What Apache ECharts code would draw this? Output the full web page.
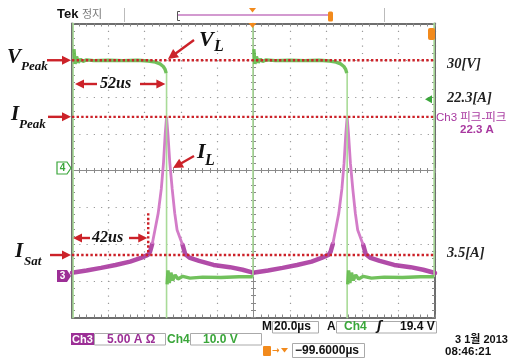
<!DOCTYPE html>
<html>
<head>
<meta charset="utf-8">
<script src="https://cdn.jsdelivr.net/npm/echarts@6/dist/echarts.min.js"></script>
<style>
html,body{margin:0;padding:0;background:#fff}
#c{width:520px;height:363px}
</style>
</head>
<body>
<div id="c"></div>
<script>
// ---- Scope settings -------------------------------------------------------
const timeRange = [0, 200];          // µs, 20 µs/div, 10 div
const voltRange = [-40, 40];         // Ch4, 10 V/div, 8 div
const currRange = [-5, 35];          // Ch3, 5 A/div, 8 div
const voltTickStep = 10;
const currTickStep = 5;
const timeTickStep = 20;

// ---- Reference levels ------------------------------------------------------
const V_PEAK = 30;      // V
const I_PEAK = 22.3;    // A
const I_SAT = 3.5;      // A
const T_ON = 52;        // µs, switch-on time
const T_SAT = 42;       // µs, time to saturation
const TRIG_LEVEL = 19.4;// V
const T_SAT_MARK_TOP = 9.2; // A, top of dotted 42 µs marker

// ---- Ch4: inductor voltage [µs, V] ----------------------------------------
// switching edges: [time, from, to]
const vEdges = [[0.6, -45, 45], [52.1, 26.5, -45], [99.7, -29, 45], [151.6, 26.5, -45], [199.5, -29, 45]];
const vHigh1 = [[1.1,33],[1.7,29],[2.5,31],[3.5,29.4],[4.7,30.3],[6,29.7],[8,30.1],[12,29.9],[20,30],[28,29.9],[36,30],[42,29.8],[46,29.5],[48.5,29],[50.3,28.3],[51.3,27.5],[51.9,26.5]];
const vLow1  = [[52.4,-31],[52.9,-27.2],[53.6,-30.6],[54.5,-27.8],[55.5,-29.9],[56.8,-28.4],[58.4,-29.5],[61,-28.8],[65,-29.3],[72,-29],[82,-29.1],[92,-28.9],[99.6,-28.9]];
const vHigh2 = [[100.2,33],[100.8,29],[101.6,31],[102.6,29.4],[103.8,30.3],[105,29.7],[107,30.1],[112,29.9],[120,30],[128,29.9],[136,30],[142,29.8],[145.5,29.5],[148,29],[149.8,28.3],[150.8,27.5],[151.4,26.5]];
const vLow2  = [[151.9,-31],[152.4,-27.2],[153.1,-30.6],[154,-27.8],[155,-29.9],[156.3,-28.4],[157.9,-29.5],[160.5,-28.8],[165,-29.3],[172,-29],[182,-29.1],[192,-28.9],[199.4,-28.9]];

// ---- Ch3: inductor current [µs, A] ----------------------------------------
const iRamp1  = [[0,1.1],[8,1.4],[16,1.75],[24,2.15],[32,2.6],[38,3.1],[42,3.55],[43,3.95],[44.2,5]];
const iSpike1 = [[44.2,5],[45.7,6.9],[47.5,9.2],[49.2,12.5],[50.4,16],[51.3,19.8],[52.1,22.3],[52.9,19.8],[53.9,16],[55.2,12.5],[56.6,9.2],[57.9,6.9],[60.9,4.9]];
const iDecay1 = [[60.9,4.9],[62.4,3.6],[65,3.1],[70,2.7],[78,2.15],[87,1.85],[94,1.5],[99.7,1.1]];
const iRamp2  = [[99.7,1.1],[108,1.4],[116,1.75],[124,2.15],[132,2.6],[137.5,3.1],[141.5,3.55],[142.5,3.95],[143.7,5]];
const iSpike2 = [[143.7,5],[145.2,6.9],[147,9.2],[148.7,12.5],[149.9,16],[150.8,19.8],[151.6,22.3],[152.4,19.8],[153.4,16],[154.7,12.5],[156.1,9.2],[157.4,6.9],[160.4,4.9]];
const iDecay2 = [[160.4,4.9],[161.9,3.6],[164.5,3.1],[169.5,2.7],[177.5,2.15],[186.5,1.85],[193.5,1.5],[200,1.05]];

// ---- Colours ---------------------------------------------------------------
const RED = '#cc2229';
const GREEN = '#62ba4a';
const GREEN_EDGE = '#a9db98';
const MAGENTA = '#a8389f';
const MAGENTA_LIGHT = '#d37cc8';
const ORANGE = '#f28a1c';
const FRAME = '#6e6e6e';
const DOT = '#9a9a9a';

const plotRect = { left: 72, top: 23.5, width: 363, height: 294 };

const chart = echarts.init(document.getElementById('c'), null, { renderer: 'canvas' });

function frameAxis(extra) {
  return Object.assign({
    type: 'value',
    axisLine: { show: true, onZero: false, lineStyle: { color: FRAME, width: 2 } },
    axisTick: { show: true, inside: true, length: 3, lineStyle: { color: '#888' } },
    minorTick: { show: true, splitNumber: 5, length: 3, lineStyle: { color: '#888' } },
    axisLabel: { show: false },
    splitLine: { show: false }
  }, extra);
}
function crossAxis(gridIndex, range, inside) {
  return {
    type: 'value', gridIndex, min: range[0], max: range[1], interval: 0.2,
    axisLine: { show: true, onZero: true, lineStyle: { color: '#8a8a8a', width: 1 } },
    axisTick: { show: true, inside, length: 2.5, lineStyle: { color: '#8a8a8a' } },
    axisLabel: { show: false }, splitLine: { show: false }
  };
}

const lineBase = { type: 'line', showSymbol: false, symbol: 'none', silent: true, animation: false, clip: true };

const series = [];
// current trace: slow ramp/decay drawn heavy, fast spike lighter
[iRamp1, iDecay1, iRamp2, iDecay2].forEach(d => series.push(Object.assign({}, lineBase, {
  xAxisIndex: 0, yAxisIndex: 1, data: d, lineStyle: { color: MAGENTA, width: 4.5, opacity: 0.9, cap: 'round' }, z: 3
})));
[iSpike1, iSpike2].forEach(d => series.push(Object.assign({}, lineBase, {
  xAxisIndex: 0, yAxisIndex: 1, data: d, lineStyle: { color: MAGENTA_LIGHT, width: 2.8 }, z: 3
})));
// voltage trace: edges thin, plateaus heavy
vEdges.forEach(e => series.push(Object.assign({}, lineBase, {
  xAxisIndex: 0, yAxisIndex: 0, data: [[e[0], e[1]], [e[0], e[2]]], lineStyle: { color: GREEN_EDGE, width: 1.6 }, z: 4
})));
[vHigh1, vLow1, vHigh2, vLow2].forEach(d => series.push(Object.assign({}, lineBase, {
  xAxisIndex: 0, yAxisIndex: 0, data: d, lineStyle: { color: GREEN, width: 3.4, opacity: 0.9 }, z: 4
})));
// red dotted reference lines
const redDots = { color: RED, width: 2.4, type: [2.4, 2.2] };
series.push(Object.assign({}, lineBase, { xAxisIndex: 0, yAxisIndex: 0, data: [[timeRange[0], V_PEAK], [timeRange[1], V_PEAK]], lineStyle: redDots, z: 5 }));
series.push(Object.assign({}, lineBase, { xAxisIndex: 0, yAxisIndex: 1, data: [[timeRange[0], I_PEAK], [timeRange[1], I_PEAK]], lineStyle: redDots, z: 5 }));
series.push(Object.assign({}, lineBase, { xAxisIndex: 0, yAxisIndex: 1, data: [[timeRange[0], I_SAT], [timeRange[1], I_SAT]], lineStyle: redDots, z: 5 }));
series.push(Object.assign({}, lineBase, { xAxisIndex: 0, yAxisIndex: 1, data: [[T_SAT, T_SAT_MARK_TOP], [T_SAT, I_SAT]], lineStyle: redDots, z: 5 }));

const grids = [0, 1, 2].map(() => Object.assign({ outerBoundsMode: 'none', containLabel: false }, plotRect));

chart.setOption({
  backgroundColor: '#ffffff',
  animation: false,
  grid: grids,
  xAxis: [
    frameAxis({ gridIndex: 0, position: 'bottom', min: timeRange[0], max: timeRange[1], interval: timeTickStep,
      splitLine: { show: true, lineStyle: { color: DOT, width: 1.2, type: [1.2, 6.15] } } }),
    frameAxis({ gridIndex: 0, position: 'top', min: timeRange[0], max: timeRange[1], interval: timeTickStep }),
    crossAxis(1, [-5, 5], true),
    crossAxis(2, [-5, 5], false)
  ],
  yAxis: [
    frameAxis({ gridIndex: 0, position: 'left', min: voltRange[0], max: voltRange[1], interval: voltTickStep,
      splitLine: { show: true, lineStyle: { color: DOT, width: 1.2, type: [1.2, 6.06] } } }),
    frameAxis({ gridIndex: 0, position: 'right', min: currRange[0], max: currRange[1], interval: currTickStep }),
    crossAxis(1, [-4, 4], true),
    crossAxis(2, [-4, 4], false)
  ],
  series
});

// ---- Annotations -----------------------------------------------------------
const px = t => chart.convertToPixel({ xAxisIndex: 0 }, t);
const pyV = v => chart.convertToPixel({ yAxisIndex: 0 }, v);
const pyI = a => chart.convertToPixel({ yAxisIndex: 1 }, a);

function arrow(x1, y1, x2, y2, len, half, w) {
  len = len || 9; half = half || 4.5; w = w || 2.4;
  const dx = x2 - x1, dy = y2 - y1, L = Math.hypot(dx, dy);
  const ux = dx / L, uy = dy / L;
  const bx = x2 - ux * len, by = y2 - uy * len;
  return [
    { type: 'line', shape: { x1, y1, x2: bx + ux, y2: by + uy }, style: { stroke: RED, lineWidth: w }, z: 10 },
    { type: 'polygon', shape: { points: [[x2, y2], [bx - uy * half, by + ux * half], [bx + uy * half, by - ux * half]] }, style: { fill: RED }, z: 10 }
  ];
}
function txt(text, x, y, font, fill, align) {
  return { type: 'text', x: 0, y: 0, z: 11, style: { text, x, y, font, fill: fill || '#111', textAlign: align || 'left', textVerticalAlign: 'middle' } };
}
function box(x, y, w, h, fill, stroke) {
  return { type: 'rect', shape: { x, y, width: w, height: h }, style: { fill: fill || 'none', stroke: stroke || 'none', lineWidth: 1 }, z: 9 };
}

const SERIF_BIG = 'italic bold 21px "Liberation Serif"';
const SERIF_SUB = 'italic bold 13px "Liberation Serif"';
const SERIF_MID = 'italic bold 16px "Liberation Serif"';
const SERIF_RIGHT = 'italic bold 14.5px "Liberation Serif"';
const UI = '"Liberation Sans", "Noto Sans CJK KR", sans-serif';

const yVp = pyV(V_PEAK), yIp = pyI(I_PEAK), yIs = pyI(I_SAT);
const xStart = px(0), xOn = px(T_ON), xSat = px(T_SAT);
const y52 = 84, y42 = 238;

const g = [];
// left-side level labels
g.push(txt('V', 7, yVp - 3, SERIF_BIG), txt('Peak', 21, yVp + 6, SERIF_SUB));
g.push(...arrow(47, yVp, xStart - 1, yVp));
g.push(txt('I', 11, yIp - 2, SERIF_BIG), txt('Peak', 19, yIp + 8, SERIF_SUB));
g.push(...arrow(48, yIp, xStart - 1, yIp));
g.push(txt('I', 15, yIs - 3, SERIF_BIG), txt('Sat', 24, yIs + 7, SERIF_SUB));
g.push(...arrow(50, yIs, xStart - 1, yIs));
// 52 µs span
g.push(...arrow(97, y52, xStart + 3, y52), txt('52us', 100, y52, SERIF_MID));
g.push(...arrow(140, y52, xOn - 1, y52));
// 42 µs span
g.push(...arrow(90, y42, xStart + 1, y42), txt('42us', 92, y42, SERIF_MID));
g.push(...arrow(129, y42, xSat - 1, y42));
// trace names
g.push(txt('V', 199, 40, 'italic bold 22px "Liberation Serif"'), txt('L', 214, 47, 'italic bold 16px "Liberation Serif"'));
g.push(...arrow(194, 40, 168, 59, 10, 5));
g.push(txt('I', 197, 152, 'italic bold 22px "Liberation Serif"'), txt('L', 205, 161, 'italic bold 16px "Liberation Serif"'));
g.push(...arrow(194, 156, 173, 168, 10, 5));
// right-side value labels
g.push(txt('30[V]', 447, yVp + 4, SERIF_RIGHT, '#222'));
g.push(txt('22.3[A]', 447, 98, SERIF_RIGHT, '#222'));
g.push(txt('3.5[A]', 447, yIs - 2, SERIF_RIGHT, '#222'));
g.push(txt('Ch3 피크-피크', 436, 118, '11.5px ' + UI, MAGENTA));
g.push(txt('22.3 A', 460, 130, 'bold 11.5px ' + UI, MAGENTA));

// trigger level pointer on right edge
const yTrig = pyV(TRIG_LEVEL);
g.push({ type: 'polygon', z: 9, shape: { points: [[425, yTrig], [432, yTrig - 4], [432, yTrig + 4]] }, style: { fill: '#3aa63a' } });
// channel ground markers
g.push({ type: 'polygon', z: 9, shape: { points: [[57, 162], [67, 162], [71, 168], [67, 174], [57, 174]] }, style: { fill: '#fff', stroke: '#3aa63a', lineWidth: 1.2 } });
g.push(txt('4', 62.5, 168.5, 'bold 10px ' + UI, '#3aa63a', 'center'));
g.push({ type: 'polygon', z: 9, shape: { points: [[57, 270], [67, 270], [71, 276], [67, 282], [57, 282]] }, style: { fill: '#9c2f96' } });
g.push(txt('3', 62.5, 276.5, 'bold 10px ' + UI, '#fff', 'center'));
// trigger markers
g.push({ type: 'rect', z: 9, shape: { x: 428, y: 28, width: 7, height: 12, r: 2 }, style: { fill: ORANGE } });
g.push({ type: 'polygon', z: 9, shape: { points: [[248.5, 23], [256.5, 23], [252.5, 28]] }, style: { fill: ORANGE } });

// header
g.push(txt('Tek', 57, 14, 'bold 13px ' + UI, '#111'));
g.push(txt('정지', 82, 14, '11px "Noto Sans CJK KR"', '#777'));
g.push({ type: 'line', z: 9, shape: { x1: 124.5, y1: 8, x2: 124.5, y2: 22 }, style: { stroke: '#bbb', lineWidth: 1 } });
g.push({ type: 'line', z: 9, shape: { x1: 384.5, y1: 8, x2: 384.5, y2: 22 }, style: { stroke: '#bbb', lineWidth: 1 } });
g.push({ type: 'polyline', z: 9, shape: { points: [[180, 11.5], [177.5, 11.5], [177.5, 20.5], [180, 20.5]] }, style: { stroke: '#555', lineWidth: 1, fill: 'none' } });
g.push({ type: 'line', z: 9, shape: { x1: 178, y1: 15, x2: 330, y2: 15 }, style: { stroke: '#c478c0', lineWidth: 1.6 } });
g.push({ type: 'polygon', z: 9, shape: { points: [[249, 8], [256, 8], [252.5, 12.5]] }, style: { fill: ORANGE } });
g.push({ type: 'rect', z: 9, shape: { x: 328, y: 11.5, width: 5, height: 10, r: 1.5 }, style: { fill: ORANGE } });

// footer – channel settings
g.push(box(71, 333, 23, 12, '#9c2f96'));
g.push(txt('Ch3', 82.5, 339.5, 'bold 11px ' + UI, '#fff', 'center'));
g.push(box(94.5, 333.5, 71, 11.5, '#fff', '#aaa'));
g.push(txt('5.00 A Ω', 107, 339.5, 'bold 12px ' + UI, '#9c2f96'));
g.push(txt('Ch4', 167, 339.5, 'bold 12px ' + UI, '#3aa63a'));
g.push(box(190.5, 333.5, 71, 11.5, '#fff', '#aaa'));
g.push(txt('10.0 V', 203, 339.5, 'bold 12px ' + UI, '#3aa63a'));
// footer – timebase and trigger
g.push(txt('M', 262, 327, 'bold 12px ' + UI, '#111'));
g.push(box(272.5, 321.5, 46, 11.5, '#fff', '#aaa'));
g.push(txt('20.0µs', 274, 327, 'bold 12px ' + UI, '#111'));
g.push(txt('A', 327, 327, 'bold 12px ' + UI, '#111'));
g.push(box(336.5, 321.5, 100, 11.5, '#fff', '#aaa'));
g.push(txt('Ch4', 344, 327, 'bold 12px ' + UI, '#3aa63a'));
g.push(txt('ʃ', 377, 327, 'bold italic 12px "DejaVu Sans"', '#111'));
g.push(txt('19.4 V', 400, 327, 'bold 12px ' + UI, '#111'));
g.push({ type: 'rect', z: 9, shape: { x: 263, y: 346, width: 8, height: 10, r: 1 }, style: { fill: ORANGE } });
g.push(txt('→', 272, 351, 'bold 9px "DejaVu Sans"', ORANGE));
g.push({ type: 'polygon', z: 9, shape: { points: [[281, 348], [288, 348], [284.5, 352.5]] }, style: { fill: ORANGE } });
g.push(box(292.5, 343.5, 72, 14, '#fff', '#aaa'));
g.push(txt('−99.6000µs', 295, 351, 'bold 12px ' + UI, '#111'));
// footer – date and time
g.push(txt('3 1월 2013', 455, 340, 'bold 11px "Liberation Sans", "Noto Sans CJK KR"', '#111'));
g.push(txt('08:46:21', 445, 351.5, 'bold 11.5px ' + UI, '#111'));

chart.setOption({ graphic: { elements: g } });
</script>
</body>
</html>
